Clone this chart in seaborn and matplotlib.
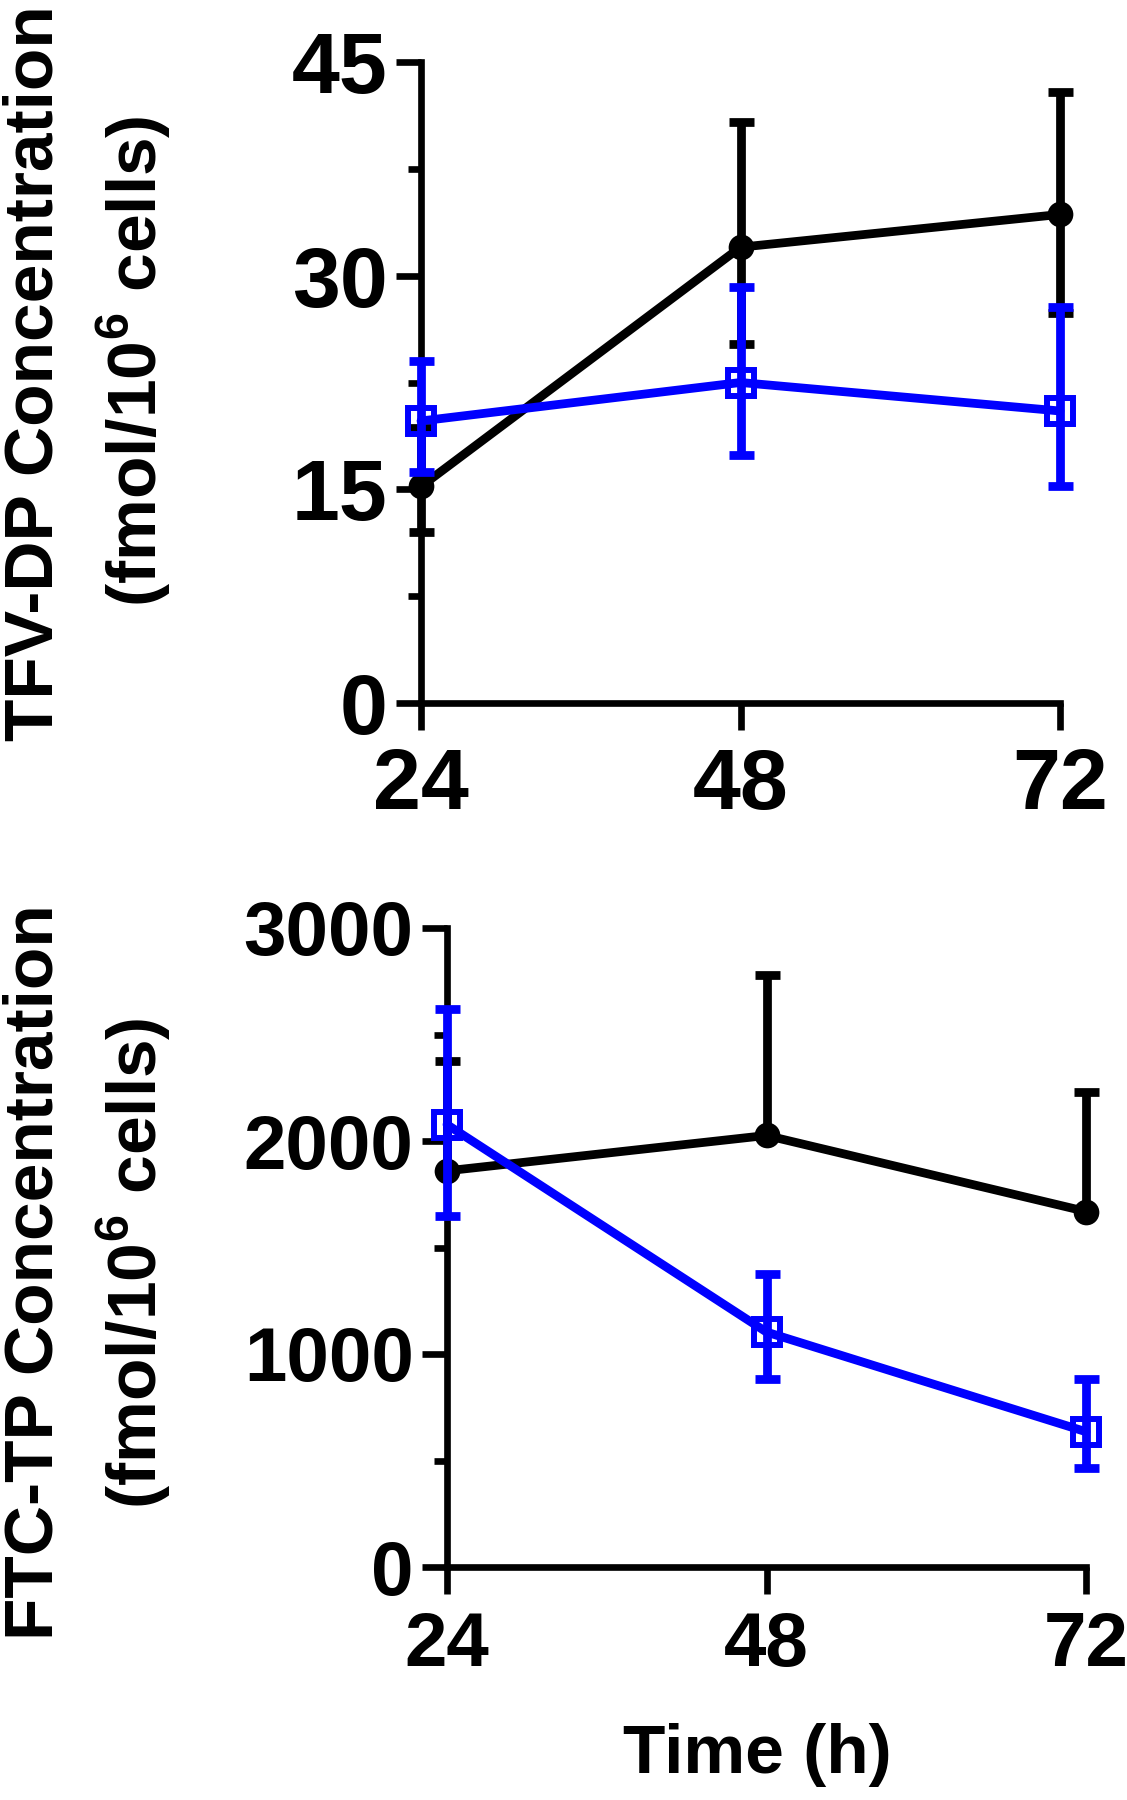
import numpy as np
import pandas as pd
import matplotlib
matplotlib.use("Agg")
import matplotlib.pyplot as plt
from matplotlib.ticker import MultipleLocator
import seaborn as sns

# values
hours = [24, 48, 72]

tfv_black = [15.2, 32.0, 34.3]
tfv_black_lo = [12.0, 25.2, 27.4]
tfv_black_hi = [19.3, 40.8, 42.9]
tfv_blue = [19.8, 22.5, 20.5]
tfv_blue_lo = [16.2, 17.4, 15.2]
tfv_blue_hi = [24.0, 29.2, 27.8]

ftc_black = [1860, 2026, 1669]
ftc_black_hi = [2374, 2777, 2230]
ftc_blue = [2077, 1103, 635]
ftc_blue_lo = [1650, 882, 463]
ftc_blue_hi = [2621, 1374, 882]

sns.set_style("ticks")
plt.rcParams["font.family"] = ["Liberation Sans", "DejaVu Sans"]
plt.rcParams["font.weight"] = "bold"
plt.rcParams["mathtext.fontset"] = "custom"
plt.rcParams["mathtext.rm"] = "Liberation Sans:bold"
plt.rcParams["mathtext.bf"] = "Liberation Sans:bold"

W, H = 1127, 1800
LW = 6.3      # data lines and error bars
AX_LW = 4.8   # spines and ticks


def px_box(left, top, right, bottom):
    return [left / W, 1 - bottom / H, (right - left) / W, (bottom - top) / H]


def draw_series(ax, y, lo, hi, color, marker, z, upper_only=False):
    y = np.array(y, dtype=float)
    lo = np.array(lo, dtype=float)
    hi = np.array(hi, dtype=float)
    eb = ax.errorbar(hours, y, yerr=[y - lo, hi - y], fmt="none", ecolor=color,
                     elinewidth=LW, capsize=9, capthick=LW, zorder=z)
    for art in eb.get_children():
        art.set_clip_on(False)
    if upper_only:
        for cap in eb[1]:
            if np.allclose(cap.get_ydata(), y):
                cap.set_visible(False)
    df = pd.DataFrame({"time": hours, "value": y})
    sns.lineplot(data=df, x="time", y="value", color=color, linewidth=LW,
                 marker=marker, ax=ax, zorder=z + 1)
    line = ax.lines[-1]
    line.set_clip_on(False)
    line.set_linewidth(LW)
    if marker == "s":
        line.set_markersize(18.5)
        line.set_markerfacecolor("none")
        line.set_markeredgecolor(color)
        line.set_markeredgewidth(4.3)
    else:
        line.set_markersize(18.5)
        line.set_markerfacecolor(color)
        line.set_markeredgecolor(color)
        line.set_markeredgewidth(0)


def style_axis(ax, ymax, ymajor, yminor, size):
    ax.set_xlim(24, 72)
    ax.set_ylim(0, ymax)
    ax.set_xticks(hours)
    ax.yaxis.set_major_locator(MultipleLocator(ymajor))
    ax.yaxis.set_minor_locator(MultipleLocator(yminor))
    ax.set(xlabel="", ylabel="")
    sns.despine(ax=ax)
    for s in ["left", "bottom"]:
        ax.spines[s].set_linewidth(AX_LW)
        ax.spines[s].set_color("black")
    ax.tick_params(axis="x", which="major", length=19.5, width=AX_LW, labelsize=size, pad=12, colors="black")
    ax.tick_params(axis="y", which="major", length=18, width=AX_LW, labelsize=size, pad=6, colors="black")
    ax.tick_params(axis="y", which="minor", length=9.5, width=AX_LW, colors="black")
    for lab in ax.get_xticklabels() + ax.get_yticklabels():
        lab.set_fontweight("bold")


fig = plt.figure(figsize=(W / 100, H / 100), dpi=100)
ax1 = fig.add_axes(px_box(421, 62, 1060, 703))
ax2 = fig.add_axes(px_box(447, 928, 1086, 1567))

draw_series(ax1, tfv_black, tfv_black_lo, tfv_black_hi, "black", "o", 2)
draw_series(ax1, tfv_blue, tfv_blue_lo, tfv_blue_hi, "#0000FF", "s", 4)
style_axis(ax1, 45, 15, 7.5, 62)

draw_series(ax2, ftc_black, ftc_black, ftc_black_hi, "black", "o", 2, upper_only=True)
draw_series(ax2, ftc_blue, ftc_blue_lo, ftc_blue_hi, "#0000FF", "s", 4)
style_axis(ax2, 3000, 1000, 500, 55)

lab_kw = dict(rotation=90, rotation_mode="anchor", ha="center", va="baseline",
              fontsize=50, fontweight="bold", color="black")
fig.text(53 / W, 1 - 373 / H, "TFV-DP Concentration", **lab_kw)
fig.text(157 / W, 1 - 361 / H, r"(fmol/10$^{\mathbf{6}}$ cells)", **lab_kw)
fig.text(53 / W, 1 - 1272 / H, "FTC-TP Concentration", **lab_kw)
fig.text(157 / W, 1 - 1263 / H, r"(fmol/10$^{\mathbf{6}}$ cells)", **lab_kw)
fig.text(757 / W, 1 - 1773 / H, "Time (h)", ha="center", va="baseline",
         fontsize=50, fontweight="bold", color="black")

fig.savefig("out.png", dpi=100)
